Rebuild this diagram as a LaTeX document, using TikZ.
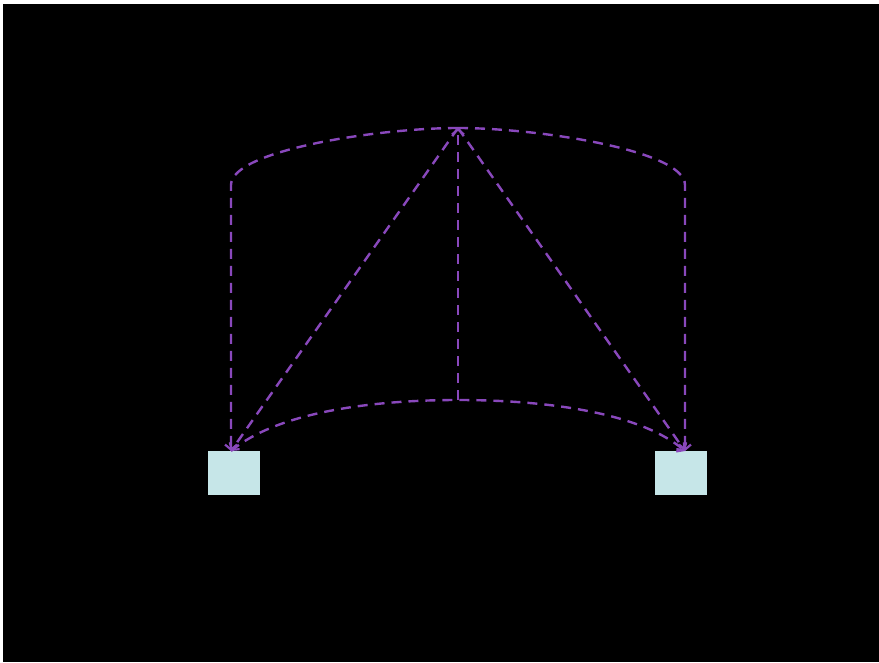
\documentclass[tikz,border=0pt]{standalone}
\usepackage{tikz}
\usetikzlibrary{positioning,calc}
\usetikzlibrary{arrows.meta}
\definecolor{LinkPurple}{RGB}{137,72,188}
\definecolor{BoxCyan}{RGB}{198,230,232}
\tikzset{
	box/.style={draw=none,fill=BoxCyan,minimum width=52pt,minimum height=44pt,inner sep=0pt},
	link/.style={draw=LinkPurple,line width=2.4pt,dash pattern=on 10pt off 7pt,
		-{Straight Barb[length=5pt,width=12pt,line width=2.2pt]}},
}

\begin{document}
\begin{tikzpicture}[x=1pt,y=-1pt]
					\useasboundingbox (0,0) rectangle (879,663);
					\fill[white] (0,0) rectangle (879,663);
					\fill[black] (3,4) rectangle (879,662);
					\node[box] (lbox) at (234,473) {};
					\node[box] (rbox) at (681,473) {};
					\coordinate (apex) at (458,128);
					\coordinate (base) at (458,400);
					\coordinate (lend) at (231,451);
					\coordinate (rend) at (685,451);
					% rounded outer links
					\draw[link] (apex) .. controls (380,128) and (231,150) .. (231,185) -- (lend);
					\draw[link] (apex) .. controls (536,128) and (685,150) .. (685,185) -- (rend);
					% lower arc
					\draw[link] (lend) .. controls (280,410) and (380,400) .. (base)
						.. controls (536,400) and (636,410) .. (rend);
					\foreach \e in {lend,rend}
					\draw[link] (apex)--(\e);
					\draw[link] (base)--(apex);
				\end{tikzpicture}
\end{document}
